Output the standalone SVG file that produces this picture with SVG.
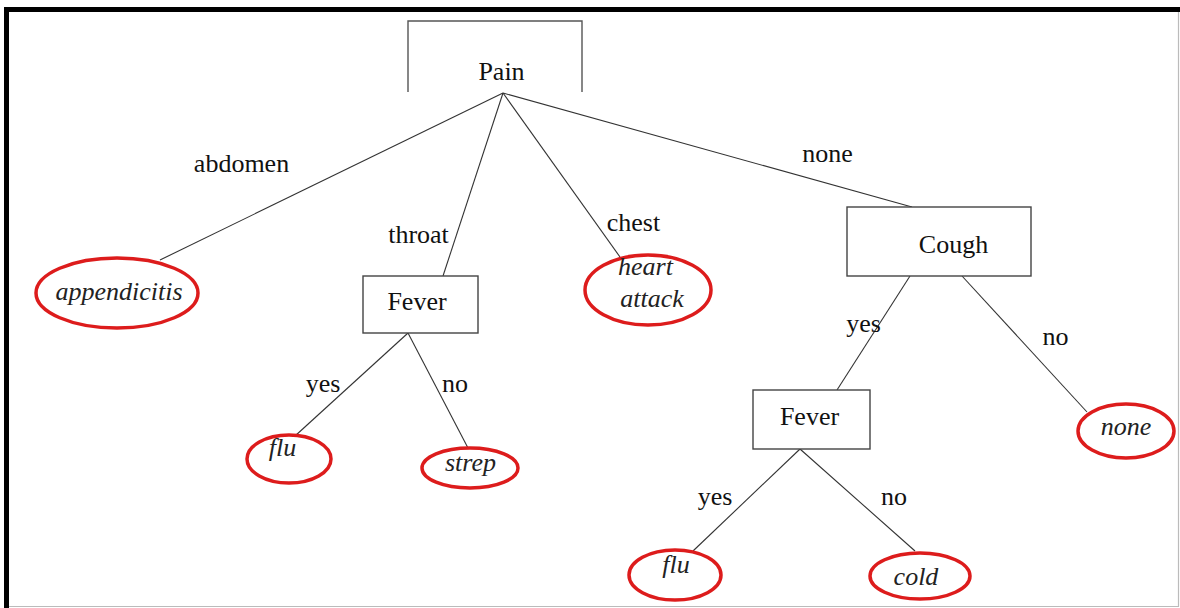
<svg xmlns="http://www.w3.org/2000/svg" width="1180" height="608" viewBox="0 0 1180 608">
<rect width="1180" height="608" fill="#fff"/>
<g id="frame">
<path d="M6.5 608 V9.5 H1180" fill="none" stroke="#000" stroke-width="5"/>
<path d="M1178.5 12 V606.5 H9" fill="none" stroke="#bbb" stroke-width="1.2"/>
</g>
<g id="connectors">
<g stroke="#333" stroke-width="1.1" fill="none">
<line x1="503" y1="93" x2="160" y2="260"/>
<line x1="503" y1="93" x2="443" y2="276"/>
<line x1="503" y1="93" x2="620" y2="257"/>
<line x1="503" y1="93" x2="912" y2="207"/>
<line x1="408" y1="333" x2="295" y2="436"/>
<line x1="408" y1="333" x2="468" y2="448"/>
<line x1="910" y1="276" x2="837" y2="390"/>
<line x1="962" y1="276" x2="1087" y2="412"/>
<line x1="800" y1="449" x2="693" y2="551"/>
<line x1="800" y1="449" x2="915" y2="551"/>
</g>
<text font-family="Times New Roman, Liberation Serif, DejaVu Serif, serif" font-size="26" fill="#111" text-anchor="middle" x="241.5" y="172">abdomen</text>
<text font-family="Times New Roman, Liberation Serif, DejaVu Serif, serif" font-size="26" fill="#111" text-anchor="middle" x="418.5" y="243">throat</text>
<text font-family="Times New Roman, Liberation Serif, DejaVu Serif, serif" font-size="26" fill="#111" text-anchor="middle" x="633.5" y="231">chest</text>
<text font-family="Times New Roman, Liberation Serif, DejaVu Serif, serif" font-size="26" fill="#111" text-anchor="middle" x="827.5" y="162">none</text>
<text font-family="Times New Roman, Liberation Serif, DejaVu Serif, serif" font-size="26" fill="#111" text-anchor="middle" x="323" y="392">yes</text>
<text font-family="Times New Roman, Liberation Serif, DejaVu Serif, serif" font-size="26" fill="#111" text-anchor="middle" x="455" y="392">no</text>
<text font-family="Times New Roman, Liberation Serif, DejaVu Serif, serif" font-size="26" fill="#111" text-anchor="middle" x="863.5" y="332">yes</text>
<text font-family="Times New Roman, Liberation Serif, DejaVu Serif, serif" font-size="26" fill="#111" text-anchor="middle" x="1055.5" y="345">no</text>
<text font-family="Times New Roman, Liberation Serif, DejaVu Serif, serif" font-size="26" fill="#111" text-anchor="middle" x="715" y="505">yes</text>
<text font-family="Times New Roman, Liberation Serif, DejaVu Serif, serif" font-size="26" fill="#111" text-anchor="middle" x="894" y="505">no</text>
</g>
<g id="pain">
<path d="M408 92 V21 H582 V92" fill="none" stroke="#555" stroke-width="1.4"/>
<text font-family="Times New Roman, Liberation Serif, DejaVu Serif, serif" font-size="26" fill="#111" text-anchor="middle" x="501.5" y="80">Pain</text>
</g>
<g id="appendicitis">
<ellipse cx="117" cy="293" rx="81" ry="35" fill="#fff" stroke="#dd1c1c" stroke-width="3.5"/>
<text font-family="Times New Roman, Liberation Serif, DejaVu Serif, serif" font-size="26" font-style="italic" fill="#222" text-anchor="middle" x="119" y="300">appendicitis</text>
</g>
<g id="fever1">
<rect x="363" y="276" width="115" height="57" fill="#fff" stroke="#444" stroke-width="1.4"/>
<text font-family="Times New Roman, Liberation Serif, DejaVu Serif, serif" font-size="26" fill="#111" text-anchor="middle" x="417" y="310">Fever</text>
</g>
<g id="heart-attack">
<ellipse cx="648" cy="290" rx="63" ry="35" fill="#fff" stroke="#dd1c1c" stroke-width="3.5"/>
<text font-family="Times New Roman, Liberation Serif, DejaVu Serif, serif" font-size="26" font-style="italic" fill="#222" text-anchor="middle" x="645.5" y="275">heart</text>
<text font-family="Times New Roman, Liberation Serif, DejaVu Serif, serif" font-size="26" font-style="italic" fill="#222" text-anchor="middle" x="652" y="307">attack</text>
</g>
<g id="cough">
<rect x="847" y="207" width="184" height="69" fill="#fff" stroke="#444" stroke-width="1.4"/>
<text font-family="Times New Roman, Liberation Serif, DejaVu Serif, serif" font-size="26" fill="#111" text-anchor="middle" x="953.5" y="253">Cough</text>
</g>
<g id="flu1">
<ellipse cx="289" cy="459" rx="42" ry="24" fill="#fff" stroke="#dd1c1c" stroke-width="3.5"/>
<text font-family="Times New Roman, Liberation Serif, DejaVu Serif, serif" font-size="26" font-style="italic" fill="#222" text-anchor="middle" x="282.5" y="456">flu</text>
</g>
<g id="strep">
<ellipse cx="470" cy="468" rx="48" ry="20" fill="#fff" stroke="#dd1c1c" stroke-width="3.5"/>
<text font-family="Times New Roman, Liberation Serif, DejaVu Serif, serif" font-size="26" font-style="italic" fill="#222" text-anchor="middle" x="470.5" y="471">strep</text>
</g>
<g id="fever2">
<rect x="753" y="390" width="117" height="59" fill="#fff" stroke="#444" stroke-width="1.4"/>
<text font-family="Times New Roman, Liberation Serif, DejaVu Serif, serif" font-size="26" fill="#111" text-anchor="middle" x="809.5" y="425">Fever</text>
</g>
<g id="none-leaf">
<ellipse cx="1126" cy="431" rx="48" ry="27" fill="#fff" stroke="#dd1c1c" stroke-width="3.5"/>
<text font-family="Times New Roman, Liberation Serif, DejaVu Serif, serif" font-size="26" font-style="italic" fill="#222" text-anchor="middle" x="1126" y="435">none</text>
</g>
<g id="flu2">
<ellipse cx="675" cy="575" rx="46" ry="25" fill="#fff" stroke="#dd1c1c" stroke-width="3.5"/>
<text font-family="Times New Roman, Liberation Serif, DejaVu Serif, serif" font-size="26" font-style="italic" fill="#222" text-anchor="middle" x="676" y="573">flu</text>
</g>
<g id="cold">
<ellipse cx="920" cy="576" rx="50" ry="23" fill="#fff" stroke="#dd1c1c" stroke-width="3.5"/>
<text font-family="Times New Roman, Liberation Serif, DejaVu Serif, serif" font-size="26" font-style="italic" fill="#222" text-anchor="middle" x="916" y="585">cold</text>
</g>
</svg>
